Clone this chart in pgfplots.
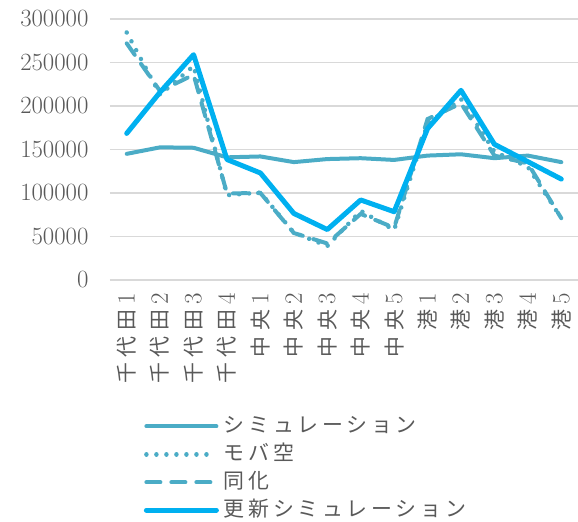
\documentclass[border=0pt]{standalone}
\usepackage{pgfplots}
\pgfplotsset{compat=1.18}
\usepackage{fontspec}
\newfontfamily\jp{Noto Sans CJK JP}[LetterSpace=25]
\newfontfamily\jpl{Noto Sans CJK JP}[LetterSpace=18]
\definecolor{simcol}{HTML}{4BACC6}
\definecolor{updcol}{HTML}{00B0F0}
\definecolor{gridc}{HTML}{D9D9D9}
\definecolor{txt}{HTML}{595959}
\newcommand{\lab}[2]{{\jp #1}\hspace{5bp}{\fontsize{25}{25}\selectfont #2}}
\begin{document}
\begin{tikzpicture}
\useasboundingbox (-110bp,-242bp) rectangle (468bp,280bp);
\begin{axis}[
  at={(0,0)}, anchor=south west, scale only axis,
  width=468bp, height=261bp,
  xmin=-0.5, xmax=13.5, ymin=0, ymax=300000,
  axis line style={draw=none}, major tick length=0pt,
  ymajorgrids, grid style={gridc, line width=1.3bp},
  ytick={0,50000,100000,150000,200000,250000,300000},
  scaled y ticks=false,
  yticklabel style={/pgf/number format/fixed, /pgf/number format/1000 sep={}, font=\fontsize{26}{26}\selectfont, text=txt, xshift=-18bp},
  xtick={0,...,13},
  xticklabels={\lab{千代田}{1},\lab{千代田}{2},\lab{千代田}{3},\lab{千代田}{4},\lab{中央}{1},\lab{中央}{2},\lab{中央}{3},\lab{中央}{4},\lab{中央}{5},\lab{港}{1},\lab{港}{2},\lab{港}{3},\lab{港}{4},\lab{港}{5}},
  xticklabel style={rotate=90, anchor=east, font=\fontsize{21}{21}\selectfont, text=txt},
  xticklabel shift=10bp,
  legend cell align=left,
  legend style={at={(0.072,-0.51)}, anchor=north west, draw=none, fill=none, inner sep=0pt,
    font=\fontsize{21}{21}\selectfont\jpl, text=txt, row sep=2bp,
    nodes={text height=17bp, text depth=5bp, inner xsep=5bp}},
  legend image code/.code={\draw[#1] (0bp,0bp) -- (70bp,0bp);},
]
\addplot[simcol, line width=4bp, line cap=round, line join=round] coordinates {
(0,145000) (1,152500) (2,152000) (3,141000) (4,142000) (5,135500) (6,139000) (7,140000) (8,138000) (9,143000) (10,144500) (11,140000) (12,143000) (13,135500)};
\addlegendentry{シミュレーション}
\addplot[simcol, line width=4.5bp, line cap=round, dash pattern=on 0.01bp off 10bp] coordinates {
(0,284500) (1,213000) (2,246000) (3,97500) (4,100500) (5,54500) (6,39000) (7,79500) (8,57500) (9,180000) (10,208000) (11,147500) (12,130000) (13,71000)};
\addlegendentry{モバ空}
\addplot[simcol, line width=4bp, line cap=round, dash pattern=on 14bp off 11bp] coordinates {
(0,272000) (1,217000) (2,236000) (3,99500) (4,100000) (5,54000) (6,42000) (7,76000) (8,60000) (9,185000) (10,203000) (11,143000) (12,134000) (13,71000)};
\addlegendentry{同化}
\addplot[updcol, line width=5bp, line cap=round, line join=round] coordinates {
(0,168500) (1,216000) (2,259000) (3,138500) (4,123000) (5,76500) (6,58000) (7,92000) (8,78500) (9,174000) (10,218000) (11,156000) (12,136000) (13,116000)};
\addlegendentry{更新シミュレーション}
\end{axis}
\end{tikzpicture}
\end{document}
